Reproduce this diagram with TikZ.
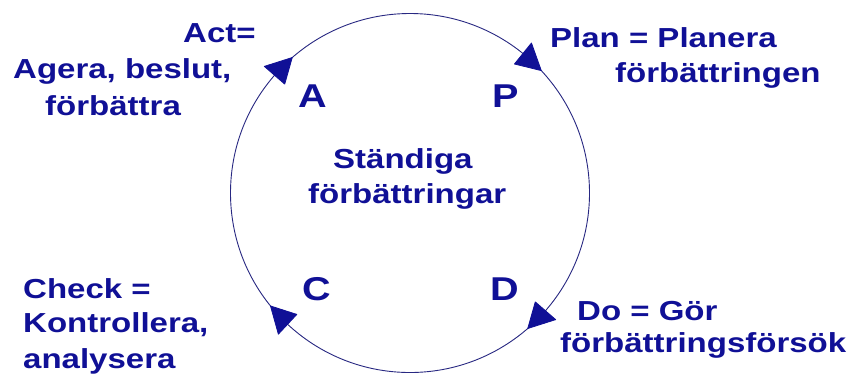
\documentclass[tikz,border=0pt]{standalone}
\usepackage{fontspec}
\newfontfamily\lbl[FakeStretch=1.2]{Liberation Sans}
\definecolor{pdca}{RGB}{16,16,150}
\definecolor{ring}{RGB}{40,40,130}
\begin{document}
\begin{tikzpicture}[x=1pt,y=-1pt,
  txt/.style={anchor=base west, inner sep=0pt, text=pdca, font=\lbl\bfseries\fontsize{27.5}{32}\selectfont},
  big/.style={txt, font=\lbl\bfseries\fontsize{33}{40}\selectfont},
  tri/.style={fill=pdca, draw=pdca, line join=round, line width=0.8pt}]
\useasboundingbox (0,0) rectangle (849,376);
\fill[white] (0,0) rectangle (849,376);
\coordinate (O) at (410,193);
\draw[ring, line width=0.9pt] (O) circle[radius=179.5];
\begin{scope}[shift={(O)}]
  \filldraw[tri] (-131:179.5) -- (-139:166) -- (-139:193) -- cycle;
  \filldraw[tri] (-43:179.5) -- (-51:166) -- (-51:193) -- cycle;
  \filldraw[tri] (49:179.5) -- (41:166) -- (41:193) -- cycle;
  \filldraw[tri] (141:179.5) -- (133:166) -- (133:193) -- cycle;
\end{scope}
\node[txt] (act1) at (183,42) {Act=};
\node[txt] (act2) at (13,78) {Agera, beslut,};
\node[txt] (act3) at (45,115) {förbättra};
\node[txt] (plan1) at (550,47) {Plan = Planera};
\node[txt] (plan2) at (615,82) {förbättringen};
\node[txt] (chk1) at (23,298) {Check =};
\node[txt] (chk2) at (23,332) {Kontrollera,};
\node[txt] (chk3) at (23,368) {analysera};
\node[txt] (do1) at (577,320) {Do = Gör};
\node[txt] (do2) at (560,352) {förbättringsförsök};
\node[txt] (mid1) at (333,168) {Ständiga};
\node[txt] (mid2) at (308,203) {förbättringar};
\node[big] (A) at (298,107) {A};
\node[big] (P) at (492,107) {P};
\node[big] (C) at (302,300) {C};
\node[big] (D) at (490,300) {D};
\end{tikzpicture}
\end{document}
